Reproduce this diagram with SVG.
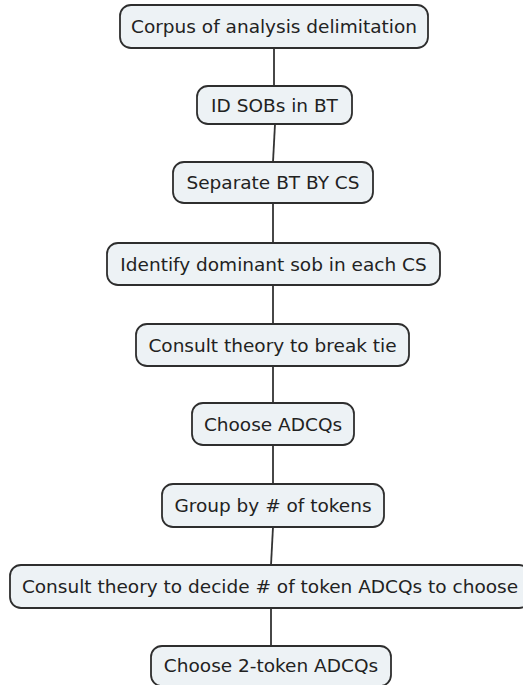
<svg xmlns="http://www.w3.org/2000/svg" width="523" height="685" viewBox="0 0 523 685">
<style>
.n rect{fill:#edf2f5;stroke:#2e2e2e;stroke-width:1.8}
.n text{font-family:"DejaVu Sans",Verdana,sans-serif;font-size:18.5px;fill:#222;text-anchor:middle}
.c line{stroke:#333;stroke-width:1.8}
</style>
<rect width="523" height="685" fill="#fff"/>
<g class="c">
<line x1="274" y1="48" x2="274" y2="86"/>
<line x1="275" y1="124" x2="273" y2="162"/>
<line x1="273" y1="203" x2="273" y2="243"/>
<line x1="273" y1="285" x2="273" y2="324"/>
<line x1="273" y1="366" x2="273" y2="403"/>
<line x1="273" y1="445" x2="273" y2="484"/>
<line x1="273" y1="527" x2="271" y2="565"/>
<line x1="271" y1="608" x2="271" y2="646"/>
</g>
<g id="n1" class="n"><rect x="120" y="5" width="308" height="43" rx="11"/><text x="274" y="33">Corpus of analysis delimitation</text></g>
<g id="n2" class="n"><rect x="197" y="86" width="155" height="38" rx="11"/><text x="274.5" y="111.5">ID SOBs in BT</text></g>
<g id="n3" class="n"><rect x="173" y="162" width="200" height="41" rx="11"/><text x="273" y="189">Separate BT BY CS</text></g>
<g id="n4" class="n"><rect x="107" y="243" width="333" height="42" rx="11"/><text x="273.5" y="270.5">Identify dominant sob in each CS</text></g>
<g id="n5" class="n"><rect x="136" y="324" width="273" height="42" rx="11"/><text x="272.5" y="351.5">Consult theory to break tie</text></g>
<g id="n6" class="n"><rect x="192" y="403" width="162" height="42" rx="11"/><text x="273" y="430.5">Choose ADCQs</text></g>
<g id="n7" class="n"><rect x="162" y="484" width="222" height="43" rx="11"/><text x="273" y="512">Group by # of tokens</text></g>
<g id="n8" class="n"><rect x="10" y="565" width="520" height="43" rx="11"/><text x="270" y="593">Consult theory to decide # of token ADCQs to choose</text></g>
<g id="n9" class="n"><rect x="151" y="646" width="240" height="40" rx="11"/><text x="271" y="672">Choose 2-token ADCQs</text></g>
</svg>
